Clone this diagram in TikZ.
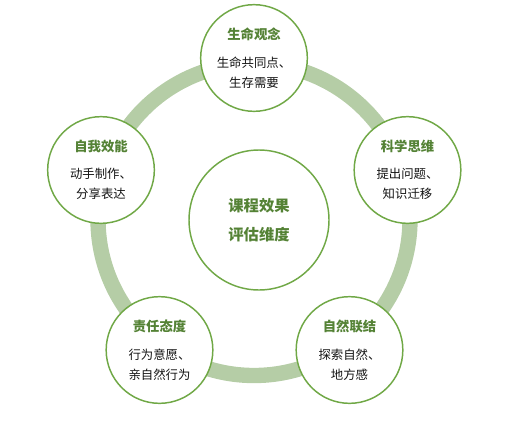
\documentclass[tikz,border=0pt]{standalone}
\usepackage{fontspec}
\newfontfamily\cjk{Noto Sans CJK SC}
\definecolor{ringgreen}{RGB}{181,205,166}
\definecolor{edgegreen}{RGB}{112,168,70}
\definecolor{ttlgreen}{RGB}{84,130,53}
\definecolor{bodytext}{RGB}{20,20,20}
\newcommand{\ttl}{\bfseries\fontsize{10}{12}\selectfont\color{ttlgreen}}
\begin{document}
\begin{tikzpicture}[x=0.75pt,y=-0.75pt,
  dim/.style={circle, draw=edgegreen, line width=1.1pt, fill=white, minimum size=80pt, inner sep=0pt, align=center, text=bodytext, font=\cjk\fontsize{9.3}{15}\selectfont},
  hub/.style={circle, draw=edgegreen, line width=1.1pt, fill=white, minimum size=105pt, inner sep=0pt, align=center, text=ttlgreen, font=\cjk\bfseries\fontsize{11.5}{21.5}\selectfont}]
\useasboundingbox (0,0) rectangle (520,421);
\draw[ringgreen, line width=11.5pt] (254,219.5) circle[radius=117pt];
\node[dim] (a) at (254,58) {{\ttl 生命观念}\\[5.6pt]生命共同点、\\生存需要};
\node[dim] (b) at (407.5,170) {{\ttl 科学思维}\\[5.6pt]提出问题、\\知识迁移};
\node[dim] (c) at (349.5,350) {{\ttl 自然联结}\\[5.6pt]探索自然、\\地方感};
\node[dim] (d) at (159.5,350) {{\ttl 责任态度}\\[5.6pt]行为意愿、\\亲自然行为};
\node[dim] (e) at (101,170) {{\ttl 自我效能}\\[5.6pt]动手制作、\\分享表达};
\node[hub] (f) at (259,220) {课程效果\\评估维度};
\end{tikzpicture}
\end{document}
